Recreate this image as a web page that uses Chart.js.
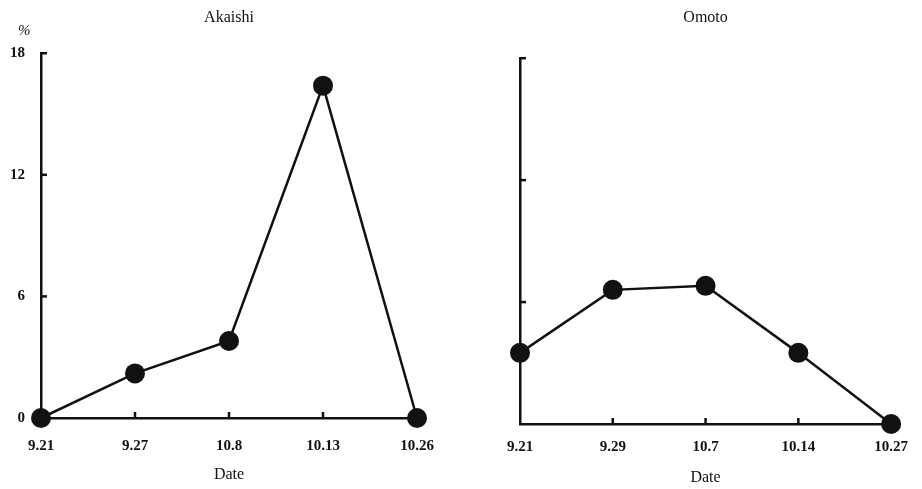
<!DOCTYPE html>
<html>
<head>
<meta charset="utf-8">
<script src="https://cdn.jsdelivr.net/npm/chart.js@4.4.1/dist/chart.umd.min.js"></script>
<style>
  html, body { margin: 0; padding: 0; background: #ffffff; }
  #wrap { position: relative; width: 922px; height: 489px; }
  .box { position: absolute; top: 0; height: 489px; }
</style>
</head>
<body>
<div id="wrap">
  <div class="box" style="left:0;width:460px"><canvas id="c1" width="460" height="489"></canvas></div>
  <div class="box" style="left:460px;width:462px"><canvas id="c2" width="462" height="489"></canvas></div>
</div>
<script>
// ---- data ----
const akaishiTitle = "Akaishi";
const omotoTitle = "Omoto";
const akaishiDates = ["9.21", "9.27", "10.8", "10.13", "10.26"];
const akaishiValues = [0, 2.2, 3.8, 16.4, 0];
const omotoDates = ["9.21", "9.29", "10.7", "10.14", "10.27"];
const omotoValues = [3.5, 6.6, 6.8, 3.5, 0];
const yTicks = [0, 6, 12, 18];
const xAxisTitle = "Date";
const yUnit = "%";

const INK = "#111111";
const SERIF = "'Liberation Serif', 'DejaVu Serif', serif";

// inward tick marks + unit label
const innerTicks = {
  id: 'innerTicks',
  afterDraw(chart, args, opts) {
    const ctx = chart.ctx;
    const xs = chart.scales.x, ys = chart.scales.y;
    const a = chart.chartArea;
    ctx.save();
    ctx.strokeStyle = INK;
    ctx.lineWidth = 2.5;
    yTicks.forEach(v => {
      if (v === 0) return;
      const py = ys.getPixelForValue(v);
      ctx.beginPath();
      ctx.moveTo(a.left, py);
      ctx.lineTo(a.left + 6, py);
      ctx.stroke();
    });
    (opts.xIdx || []).forEach(i => {
      const px = xs.getPixelForValue(i);
      ctx.beginPath();
      ctx.moveTo(px, a.bottom);
      ctx.lineTo(px, a.bottom - 6);
      ctx.stroke();
    });
    if (opts.unit) {
      ctx.fillStyle = INK;
      ctx.font = "italic 15px " + SERIF;
      ctx.textAlign = 'left';
      ctx.textBaseline = 'middle';
      ctx.fillText(opts.unit, 18, a.top - 22);
    }
    ctx.restore();
  }
};

function makeChart(id, title, labels, values, cfg) {
  return new Chart(document.getElementById(id), {
    type: 'line',
    data: {
      labels: labels,
      datasets: [{
        data: values,
        borderColor: INK,
        backgroundColor: INK,
        borderWidth: 2.5,
        pointRadius: 10,
        pointBackgroundColor: INK,
        pointBorderColor: INK,
        pointBorderWidth: 0,
        tension: 0,
        clip: false,
        fill: false
      }]
    },
    options: {
      responsive: false,
      animation: false,
      events: [],
      layout: { padding: { left: 0, right: cfg.padRight, top: 0, bottom: 0 } },
      plugins: {
        legend: { display: false },
        tooltip: { enabled: false },
        title: {
          display: true,
          text: title,
          fullSize: false,
          color: INK,
          font: { family: SERIF, size: 16, weight: 'normal', lineHeight: 1.2 },
          padding: { top: 8, bottom: cfg.titleBottom }
        },
        innerTicks: { xIdx: [1, 2, 3], unit: cfg.unit }
      },
      scales: {
        x: {
          type: 'category',
          offset: false,
          grid: { display: true, drawOnChartArea: false, drawTicks: false },
          border: { display: true, color: INK, width: 2.5 },
          ticks: {
            color: INK,
            padding: cfg.xTickPad,
            maxRotation: 0,
            autoSkip: false,
            font: { family: SERIF, size: 15, weight: 'bold' }
          },
          title: {
            display: true,
            text: xAxisTitle,
            color: INK,
            font: { family: SERIF, size: 16, weight: 'normal', lineHeight: 1.2 },
            padding: { top: 0, bottom: cfg.dateBottom }
          },
          afterFit(s) { s.height = cfg.xHeight; }
        },
        y: {
          type: 'linear',
          min: 0,
          max: 18,
          afterBuildTicks(s) { s.ticks = yTicks.map(v => ({ value: v })); },
          grid: { display: true, drawOnChartArea: false, drawTicks: false },
          border: { display: true, color: INK, width: 2.5 },
          ticks: {
            display: cfg.showY,
            color: INK,
            padding: 16,
            font: { family: SERIF, size: 15, weight: 'bold' }
          },
          afterFit(s) { s.width = cfg.yWidth; }
        }
      }
    },
    plugins: [innerTicks]
  });
}

makeChart('c1', akaishiTitle, akaishiDates, akaishiValues, {
  padRight: 43, titleBottom: 26, xTickPad: 19, xHeight: 71,
  dateBottom: 5, yWidth: 41, showY: true, unit: yUnit
});
makeChart('c2', omotoTitle, omotoDates, omotoValues, {
  padRight: 27, titleBottom: 31, xTickPad: 14, xHeight: 65,
  dateBottom: 2, yWidth: 60, showY: false, unit: null
});
</script>
</body>
</html>
